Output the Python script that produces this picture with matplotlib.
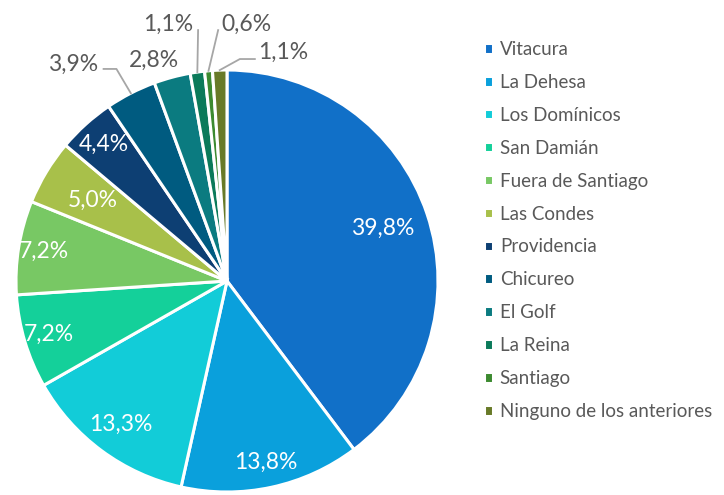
import numpy as np
import matplotlib
matplotlib.use("Agg")
import matplotlib.pyplot as plt

plt.rcParams['font.family'] = ['Lato', 'DejaVu Sans']

labels = ['Vitacura', 'La Dehesa', 'Los Domínicos', 'San Damián', 'Fuera de Santiago',
          'Las Condes', 'Providencia', 'Chicureo', 'El Golf', 'La Reina', 'Santiago',
          'Ninguno de los anteriores']
values = [39.8, 13.8, 13.3, 7.2, 7.2, 5.0, 4.4, 3.9, 2.8, 1.1, 0.6, 1.1]
colors = ['#1170c8', '#0aa0dc', '#12ccd8', '#14d09a', '#78c864', '#a8c04a',
          '#0d3f73', '#005b80', '#0b7b80', '#0b7a5a', '#3c8a30', '#687a28']

# label radius for the slices labelled inside (None -> outside)
inside_r = [0.78, 0.88, 0.845, 0.88, 0.88, 0.74, 0.87, None, None, None, None, None]
# outside labels: text position, leader line points (data coords)
outside = {
    7: ((-0.731, 1.028), [(-0.524, 1.005), (-0.585, 1.005)]),
    8: ((-0.344, 1.047), []),
    9: ((-0.278, 1.217), [(-0.137, 1.189)]),
    10: ((0.090, 1.217), [(-0.042, 1.189)]),
    11: ((0.264, 1.085), [(0.061, 1.052), (0.132, 1.052)]),
}

W, H = 724, 495
fig = plt.figure(figsize=(W / 100, H / 100), dpi=100)
cx, cy, R = 227, 281, 211
ax = fig.add_axes([(cx - R) / W, (H - cy - R) / H, 2 * R / W, 2 * R / H])

wedges, _ = ax.pie(values, colors=colors, startangle=90, counterclock=False,
                   wedgeprops=dict(edgecolor='white', linewidth=2.2))
ax.set_xlim(-1, 1)
ax.set_ylim(-1, 1)
ax.set_aspect('equal')

def fmt(v):
    return f"{v:.1f}".replace('.', ',') + '%'

for i, (w, v) in enumerate(zip(wedges, values)):
    mid = np.deg2rad((w.theta1 + w.theta2) / 2)
    if inside_r[i] is not None:
        r = inside_r[i]
        ax.text(r * np.cos(mid), r * np.sin(mid), fmt(v), ha='center', va='center',
                color='white', fontsize=16.5)
    else:
        (tx, ty), pts = outside[i]
        ax.text(tx, ty, fmt(v), ha='center', va='center', color='#595959', fontsize=16.5)
        if pts:
            xs = [np.cos(mid)] + [p[0] for p in pts]
            ys = [np.sin(mid)] + [p[1] for p in pts]
            ax.plot(xs, ys, color='#a6a6a6', lw=1.3, clip_on=False)

fig.legend(wedges, labels, loc='upper left', bbox_to_anchor=(467 / W, 1 - 24 / H),
           frameon=False, fontsize=13.5, handlelength=0.5, handleheight=0.5,
           handletextpad=0.35, labelspacing=0.85, labelcolor='#595959')

fig.savefig('out.png', dpi=100)
